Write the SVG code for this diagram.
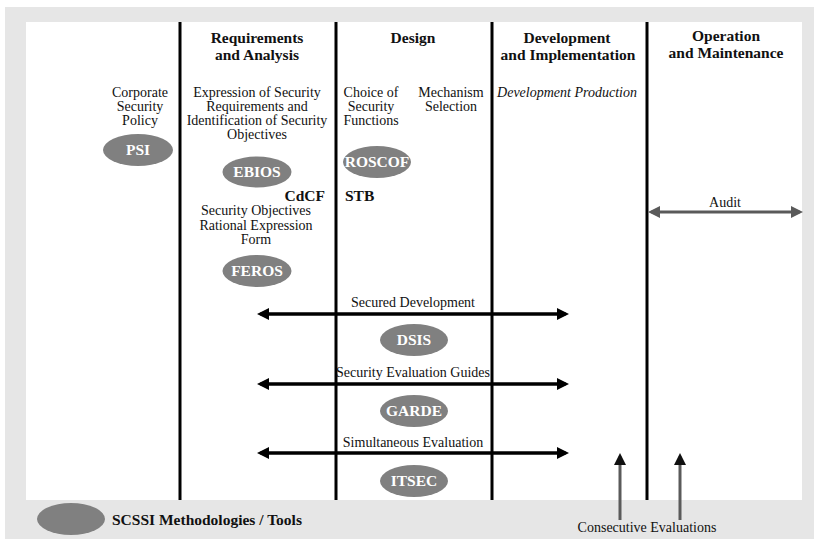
<svg xmlns="http://www.w3.org/2000/svg" width="814" height="539" viewBox="0 0 814 539" font-family="Liberation Serif, serif">
<style>
.h{font-weight:bold;font-size:15.5px;fill:#111;text-anchor:middle}
.t{font-size:14px;fill:#111;text-anchor:middle}
.b{font-weight:bold;font-size:15.5px;fill:#111}
.e{fill:#808080}
.et{font-weight:bold;font-size:15.5px;fill:#fff;text-anchor:middle}
.v{stroke:#000;stroke-width:3}
.a{stroke:#000;stroke-width:3.5;fill:none}
.g{stroke:#5a5a5a;stroke-width:3;fill:none}
</style>
<defs>
<marker id="hb" viewBox="0 0 12 12" refX="8.5" refY="6" markerWidth="12" markerHeight="12" markerUnits="userSpaceOnUse" orient="auto-start-reverse"><path d="M0,0 L12,6 L0,12 z" fill="#000"/></marker>
<marker id="hg" viewBox="0 0 12 12" refX="8.5" refY="6" markerWidth="12" markerHeight="12" markerUnits="userSpaceOnUse" orient="auto-start-reverse"><path d="M0,0 L12,6 L0,12 z" fill="#5a5a5a"/></marker>
<marker id="hk" viewBox="0 0 12 12" refX="8.5" refY="6" markerWidth="12" markerHeight="13" markerUnits="userSpaceOnUse" orient="auto"><path d="M0,0 L12,6 L0,12 z" fill="#111"/></marker>
</defs>
<rect x="5" y="7" width="809" height="532" fill="#e6e6e6"/>
<rect x="26" y="22" width="776" height="478" fill="#fff"/>
<g id="columns">
<line class="v" x1="180" y1="22" x2="180" y2="500"/>
<line class="v" x1="336" y1="22" x2="336" y2="500"/>
<line class="v" x1="492" y1="22" x2="492" y2="500"/>
<line class="v" x1="647" y1="22" x2="647" y2="500"/>
</g>
<g id="headers">
<text class="h" x="257" y="43">Requirements</text>
<text class="h" x="257" y="60">and Analysis</text>
<text class="h" x="413" y="43">Design</text>
<text class="h" x="567" y="43">Development</text>
<text class="h" x="568" y="60">and Implementation</text>
<text class="h" x="726" y="41">Operation</text>
<text class="h" x="726" y="58">and Maintenance</text>
</g>
<g id="labels">
<text class="t" x="140" y="97">Corporate</text>
<text class="t" x="140" y="111">Security</text>
<text class="t" x="140" y="125">Policy</text>
<text class="t" x="257" y="97">Expression of Security</text>
<text class="t" x="257" y="111">Requirements and</text>
<text class="t" x="257" y="125">Identification of Security</text>
<text class="t" x="257" y="139">Objectives</text>
<text class="t" x="371" y="97">Choice of</text>
<text class="t" x="371" y="111">Security</text>
<text class="t" x="371" y="125">Functions</text>
<text class="t" x="451" y="97">Mechanism</text>
<text class="t" x="451" y="111">Selection</text>
<text class="t" x="567" y="97" font-style="italic">Development  Production</text>
<text class="b" x="325" y="201" text-anchor="end">CdCF</text>
<text class="b" x="345" y="201">STB</text>
<text class="t" x="256" y="215">Security Objectives</text>
<text class="t" x="256" y="230">Rational Expression</text>
<text class="t" x="256" y="244">Form</text>
</g>
<g id="PSI"><ellipse class="e" cx="138" cy="150" rx="35" ry="16"/><text class="et" x="138" y="155">PSI</text></g>
<g id="EBIOS"><ellipse class="e" cx="257" cy="172" rx="34.5" ry="15.5"/><text class="et" x="257" y="177">EBIOS</text></g>
<g id="ROSCOF"><ellipse class="e" cx="377" cy="162" rx="34" ry="16"/><text class="et" x="377" y="167">ROSCOF</text></g>
<g id="FEROS"><ellipse class="e" cx="257" cy="271" rx="34.5" ry="16"/><text class="et" x="257" y="276">FEROS</text></g>
<g id="DSIS"><ellipse class="e" cx="414" cy="340" rx="34" ry="16"/><text class="et" x="414" y="345">DSIS</text></g>
<g id="GARDE"><ellipse class="e" cx="414" cy="411" rx="34" ry="16"/><text class="et" x="414" y="416">GARDE</text></g>
<g id="ITSEC"><ellipse class="e" cx="414" cy="481" rx="34" ry="16"/><text class="et" x="414" y="486">ITSEC</text></g>
<g id="legend"><ellipse class="e" cx="71" cy="519" rx="34" ry="16"/><text class="b" x="112" y="525">SCSSI Methodologies / Tools</text></g>
<g id="connectors">
<line class="a" x1="260.5" y1="314" x2="565.5" y2="314" marker-start="url(#hb)" marker-end="url(#hb)"/>
<line class="a" x1="260.5" y1="384" x2="565.5" y2="384" marker-start="url(#hb)" marker-end="url(#hb)"/>
<line class="a" x1="260.5" y1="453" x2="565.5" y2="453" marker-start="url(#hb)" marker-end="url(#hb)"/>
<line class="g" x1="651.5" y1="212" x2="799.5" y2="212" marker-start="url(#hg)" marker-end="url(#hg)"/>
<line class="g" x1="620" y1="520" x2="620" y2="456.5" marker-end="url(#hk)"/>
<line class="g" x1="680" y1="520" x2="680" y2="456.5" marker-end="url(#hk)"/>
<text class="t" x="413" y="307">Secured Development</text>
<text class="t" x="413" y="377">Security Evaluation Guides</text>
<text class="t" x="413" y="447">Simultaneous Evaluation</text>
<text class="t" x="725" y="207">Audit</text>
<text class="t" x="647" y="532">Consecutive Evaluations</text>
</g>
</svg>
